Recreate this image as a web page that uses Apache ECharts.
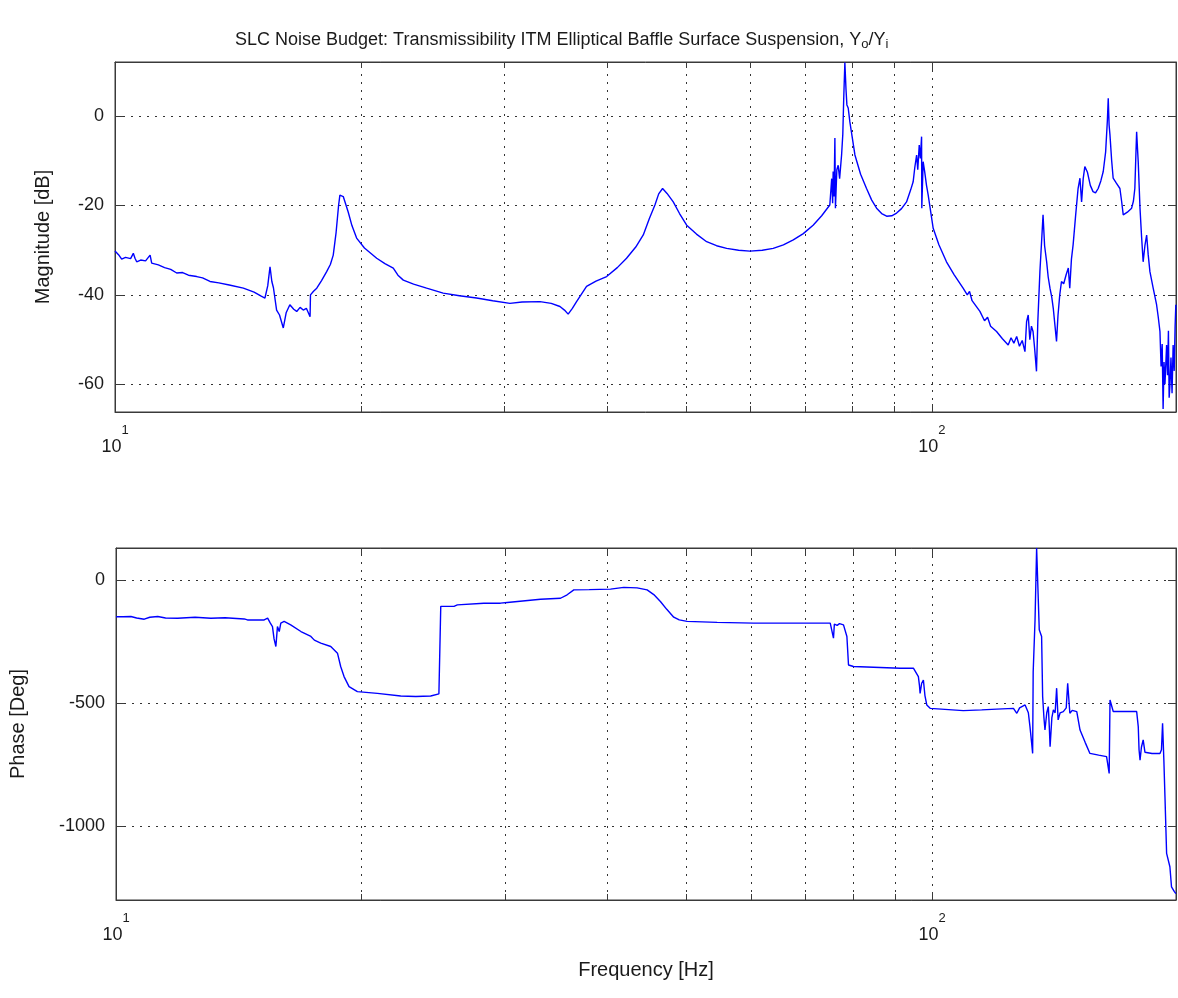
<!DOCTYPE html>
<html>
<head>
<meta charset="utf-8">
<script src="https://cdn.jsdelivr.net/npm/echarts@6/dist/echarts.min.js"></script>
<style>
html,body{margin:0;padding:0;background:#ffffff;}
#chart{width:1178px;height:998px;}
</style>
</head>
<body>
<div id="chart"></div>
<script>
// ---------------- data ----------------
const magFreq = [10.0,10.05,10.12,10.19,10.3,10.45,10.53,10.58,10.63,10.75,10.9,11.04,11.09,11.3,11.5,11.7,11.9,12.1,12.3,12.59,12.8,13.07,13.4,13.8,14.36,14.8,15.1,15.26,15.38,15.48,15.56,15.63,15.77,15.9,16.07,16.2,16.37,16.55,16.69,16.85,17.0,17.15,17.33,17.35,17.5,17.66,17.9,18.16,18.35,18.5,18.65,18.78,18.85,18.95,19.03,19.3,19.5,19.76,20.2,20.91,21.4,21.91,22.2,22.54,23.2,24.07,25.22,26.4,27.71,29.0,30.44,31.5,33.13,34.2,35.05,35.5,35.87,36.3,36.73,37.78,38.8,39.98,41.2,42.29,43.4,44.33,45.1,45.81,46.3,46.81,47.4,48.24,49.1,50.1,51.5,53.0,54.5,56.08,58.0,59.86,62.0,63.94,65.8,67.66,69.6,71.55,73.3,75.0,75.4,75.6,75.71,75.9,76.08,76.2,76.5,76.79,77.1,77.53,77.8,78.0,78.25,78.5,78.7,78.99,79.36,80.5,81.8,83.18,84.4,85.57,86.8,88.03,89.3,90.54,91.8,93.11,94.2,94.86,95.3,95.79,96.1,96.5,96.8,97.14,97.2,97.57,98.0,98.5,98.97,100.37,102.0,104.2,106.5,109.2,110.5,111.2,112.0,114.5,116.0,117.0,118.0,120.0,122.0,124.0,125.0,126.0,127.0,128.0,129.0,130.0,130.6,131.2,131.8,132.4,133.0,133.6,134.3,134.8,135.6,136.2,136.8,137.4,138.2,138.8,139.5,140.2,140.8,141.5,142.1,142.7,143.4,144.1,145.0,146.0,146.9,147.5,148.2,148.9,150.0,151.0,151.8,152.5,153.2,153.9,155.0,156.3,157.5,158.6,159.8,161.0,162.1,163.2,164.0,164.4,164.8,165.2,166.0,166.7,168.2,169.9,170.7,171.5,173.5,175.6,176.5,177.2,177.7,178.1,178.5,178.9,179.4,179.8,180.6,181.4,182.3,183.2,184.0,184.9,186.6,188.4,189.3,190.2,190.8,191.4,191.9,192.4,192.9,193.8,194.3,194.8,195.2,195.6,196.2,196.8,197.4,198.0,198.5,198.9];
const magDb = [-30.2,-30.0,-31.2,-32.0,-31.6,-31.9,-30.7,-31.8,-32.6,-32.2,-32.4,-31.1,-32.9,-33.3,-33.9,-34.3,-35.1,-35.0,-35.6,-35.9,-36.2,-37.0,-37.3,-37.8,-38.5,-39.4,-40.3,-40.7,-38.0,-33.7,-37.0,-38.4,-43.4,-44.5,-47.4,-44.0,-42.2,-43.2,-43.7,-42.8,-43.4,-43.0,-44.9,-40.0,-39.2,-38.5,-36.8,-34.8,-33.2,-31.1,-26.0,-20.0,-17.7,-17.6,-18.0,-21.5,-24.5,-27.3,-29.5,-31.8,-33.0,-34.0,-35.6,-36.7,-37.6,-38.5,-39.6,-40.2,-40.7,-41.3,-41.9,-41.6,-41.5,-41.9,-42.6,-43.4,-44.3,-43.0,-41.5,-38.1,-36.9,-35.9,-33.9,-31.8,-29.3,-26.6,-22.9,-19.9,-17.4,-16.2,-17.3,-19.2,-21.8,-24.4,-26.4,-28.1,-29.0,-29.6,-30.0,-30.2,-30.0,-29.6,-28.8,-27.7,-26.3,-24.4,-22.3,-19.9,-14.0,-19.5,-12.4,-18.0,-4.9,-20.6,-12.0,-11.0,-14.0,-8.7,-4.0,4.0,12.0,6.0,2.5,1.8,-1.3,-8.7,-13.0,-16.2,-18.8,-20.6,-21.8,-22.4,-22.3,-21.7,-20.7,-19.2,-16.5,-14.7,-11.5,-8.7,-12.0,-6.5,-9.5,-4.6,-20.6,-10.2,-12.5,-15.5,-17.7,-25.1,-28.8,-32.6,-35.5,-38.5,-40.0,-39.2,-41.3,-43.7,-45.8,-45.0,-47.0,-48.2,-49.8,-51.2,-49.6,-50.8,-49.3,-51.5,-50.2,-52.7,-46.0,-44.5,-50.0,-47.0,-48.2,-52.0,-57.1,-46.0,-34.8,-28.5,-22.1,-29.0,-32.6,-36.0,-38.5,-40.5,-43.0,-47.0,-50.4,-44.5,-40.0,-37.0,-37.5,-35.5,-34.0,-38.5,-32.0,-28.8,-22.0,-16.2,-13.9,-19.2,-14.0,-11.3,-12.5,-15.5,-16.9,-17.2,-16.2,-14.5,-12.4,-8.0,-1.0,4.0,-2.0,-4.2,-10.0,-13.9,-15.0,-16.2,-19.0,-22.1,-21.5,-20.6,-19.0,-16.2,-9.0,-3.5,-7.0,-10.2,-16.0,-20.6,-27.0,-32.6,-29.0,-26.6,-31.0,-34.8,-38.5,-42.2,-45.0,-48.2,-56.0,-51.0,-65.5,-55.0,-60.0,-51.2,-58.0,-48.0,-63.0,-60.5,-54.0,-62.0,-51.2,-57.0,-47.0,-42.2];

const phFreq = [10.0,10.05,10.2,10.43,10.6,10.83,11.0,11.25,11.5,11.9,12.5,13.07,13.6,14.36,14.49,15.0,15.19,15.34,15.45,15.55,15.62,15.70,15.77,15.85,15.92,16.07,16.37,16.85,17.33,17.5,17.82,18.33,18.68,18.85,19.03,19.3,19.76,20.91,22.33,23.3,24.3,24.87,25.0,25.95,26.2,28.23,29.59,30.16,33.13,35.05,35.71,36.39,38.0,40.36,41.9,43.5,44.75,45.6,46.46,47.3,48.24,49.0,50.1,54.53,60.43,65.77,70.0,75.02,75.4,75.71,75.9,76.08,76.5,77.0,77.88,78.63,78.99,80.1,86.38,91.38,94.86,96.2,96.5,96.67,97.1,97.57,98.0,98.51,99.45,109.2,115.0,120.0,125.8,127.0,128.0,130.0,130.6,131.2,131.8,132.4,132.8,133.0,133.7,134.3,134.9,135.3,136.2,136.6,137.1,137.5,138.2,138.8,139.2,139.5,140.2,140.8,141.5,142.1,142.7,143.5,144.8,146.0,146.6,147.5,148.5,150.4,151.8,154.0,156.1,160.0,163.6,164.8,165.2,166.7,172.0,178.1,178.9,179.3,179.8,180.5,181.4,182.3,183.2,186.0,190.2,191.0,191.6,192.3,192.9,193.8,195.6,196.5,198.0,198.9];
const phDeg = [-150,-156,-150,-149,-155,-160,-152,-149,-155,-156,-152,-156,-154,-159,-163,-163,-163,-156,-175,-190,-240,-271,-190,-210,-176,-169,-183,-210,-230,-245,-257,-271,-298,-352,-393,-434,-454,-461,-472,-474,-472,-463,-108,-108,-102,-95,-95,-92,-79,-75,-61,-41,-40,-38,-31,-33,-41,-60,-88,-120,-152,-163,-169,-173,-176,-176,-176,-176,-180,-237,-180,-176,-185,-178,-183,-230,-346,-352,-356,-359,-359,-393,-430,-461,-420,-407,-470,-508,-522,-531,-528,-525,-522,-542,-520,-508,-515,-540,-596,-660,-705,-373,-163,129,129,-203,-230,-474,-560,-610,-540,-515,-600,-678,-560,-528,-540,-440,-569,-540,-535,-520,-420,-542,-530,-535,-610,-660,-705,-712,-718,-786,-488,-535,-535,-535,-596,-690,-732,-680,-650,-700,-705,-705,-705,-690,-583,-732,-881,-1111,-1165,-1247,-1265,-1274];

const minorGridFreq = [20, 30, 40, 50, 60, 70, 80, 90];
const freqRange = [10, 199];
const magRange = [-66.2, 12.1];
const phRange = [-1300, 129];
const magStep = 20;
const phStep = 500;

// ---------------- styling ----------------
const FONT = 'Liberation Sans, Arial, Helvetica, sans-serif';
const INK = '#1a1a1a';
const FRAME = '#3a3a3a';
const DOT = [2, 6];
const BLUE = '#0000ff';

const G = [
  {left: 115, top: 62, width: 1061, height: 350},
  {left: 115, top: 548, width: 1061, height: 352}
];

function pairs(xs, ys) { return xs.map((x, i) => [x, ys[i]]); }

function decorMarks(range, h) {
  const len = (range[1] - range[0]) * 6 / h;
  const out = [];
  minorGridFreq.forEach(f => {
    out.push({xAxis: f, lineStyle: {color: '#333', width: 1, type: DOT}});
    out.push([{coord: [f, range[0]], lineStyle: {color: FRAME, width: 1, type: 'solid'}}, {coord: [f, range[0] + len]}]);
    out.push([{coord: [f, range[1]], lineStyle: {color: FRAME, width: 1, type: 'solid'}}, {coord: [f, range[1] - len]}]);
  });
  return out;
}

function xAxisPair(gi, withName) {
  const main = {
    gridIndex: gi, type: 'log', logBase: 10, min: freqRange[0], max: freqRange[1], position: 'bottom',
    axisLine: {show: true, onZero: false, lineStyle: {color: FRAME, width: 1}},
    axisTick: {show: true, inside: true, length: 8, lineStyle: {color: FRAME}},
    minorTick: {show: false},
    splitLine: {show: true, showMinLine: false, showMaxLine: false, lineStyle: {color: '#333', width: 1, type: DOT}},
    axisLabel: {
      show: true, margin: 11, showMaxLabel: false, color: INK, fontFamily: FONT,
      formatter: v => '{e|' + Math.round(Math.log10(v)) + '}\n{b|10}',
      rich: {
        e: {fontSize: 13, lineHeight: 14, padding: [0, 0, 0, 20], color: INK, fontFamily: FONT},
        b: {fontSize: 18, lineHeight: 20, padding: [0, 7, 0, 0], color: INK, fontFamily: FONT}
      }
    }
  };
  if (withName) {
    main.name = 'Frequency [Hz]';
    main.nameLocation = 'middle';
    main.nameGap = 60;
    main.nameTextStyle = {fontSize: 20, color: INK, fontFamily: FONT};
  }
  const top = {
    gridIndex: gi, type: 'log', logBase: 10, min: freqRange[0], max: freqRange[1], position: 'top',
    axisLine: {show: true, onZero: false, lineStyle: {color: FRAME, width: 1}},
    axisTick: {show: true, inside: true, length: 8, lineStyle: {color: FRAME}},
    axisLabel: {show: false}, splitLine: {show: false}
  };
  return [main, top];
}

function yAxisPair(gi, range, step, split, name, gap) {
  const common = {
    gridIndex: gi, type: 'value', min: range[0], max: range[1],
    splitNumber: split, minInterval: step, maxInterval: step,
    axisLine: {show: true, onZero: false, lineStyle: {color: FRAME, width: 1}},
    axisTick: {show: true, inside: true, length: 8, lineStyle: {color: FRAME}}
  };
  const left = Object.assign({}, common, {
    position: 'left', name: name, nameLocation: 'middle', nameGap: gap,
    nameTextStyle: {fontSize: 20, color: INK, fontFamily: FONT},
    axisLabel: {show: true, margin: 11, fontSize: 18, color: INK, fontFamily: FONT,
      showMinLabel: false, showMaxLabel: false, formatter: v => String(v)},
    splitLine: {show: true, showMinLine: false, showMaxLine: false, lineStyle: {color: '#333', width: 1, type: DOT}}
  });
  const right = Object.assign({}, common, {
    position: 'right', axisLabel: {show: false}, splitLine: {show: false}
  });
  return [left, right];
}

const xs = xAxisPair(0, false).concat(xAxisPair(1, true));
const ys = yAxisPair(0, magRange, magStep, 4, 'Magnitude [dB]', 62)
  .concat(yAxisPair(1, phRange, phStep, 3, 'Phase [Deg]', 88));

const chart = echarts.init(document.getElementById('chart'), null, {renderer: 'canvas'});
chart.setOption({
  animation: false,
  backgroundColor: '#ffffff',
  textStyle: {fontFamily: FONT},
  title: {
    text: 'SLC Noise Budget: Transmissibility ITM Elliptical Baffle Surface Suspension, Y{s|o}/Y{s|i}',
    left: 230, top: 24,
    textStyle: {
      fontSize: 18, fontWeight: 'normal', color: INK, fontFamily: FONT, lineHeight: 22,
      rich: {s: {fontSize: 13, lineHeight: 10, verticalAlign: 'bottom', color: INK, fontFamily: FONT}}
    }
  },
  grid: G.map(g => Object.assign({show: true, borderColor: FRAME, borderWidth: 1, backgroundColor: '#fff', containLabel: false}, g)),
  xAxis: xs,
  yAxis: ys,
  series: [
    {
      type: 'line', name: 'Magnitude', xAxisIndex: 0, yAxisIndex: 0,
      data: pairs(magFreq, magDb), showSymbol: false, symbol: 'none',
      lineStyle: {color: BLUE, width: 1.4}, itemStyle: {color: BLUE}, clip: true, z: 3,
      markLine: {silent: true, symbol: ['none', 'none'], label: {show: false}, animation: false, z: 1,
        emphasis: {disabled: true}, data: decorMarks(magRange, G[0].height)}
    },
    {
      type: 'line', name: 'Phase', xAxisIndex: 2, yAxisIndex: 2,
      data: pairs(phFreq, phDeg), showSymbol: false, symbol: 'none',
      lineStyle: {color: BLUE, width: 1.4}, itemStyle: {color: BLUE}, clip: true, z: 3,
      markLine: {silent: true, symbol: ['none', 'none'], label: {show: false}, animation: false, z: 1,
        emphasis: {disabled: true}, data: decorMarks(phRange, G[1].height)}
    }
  ]
});
</script>
</body>
</html>
